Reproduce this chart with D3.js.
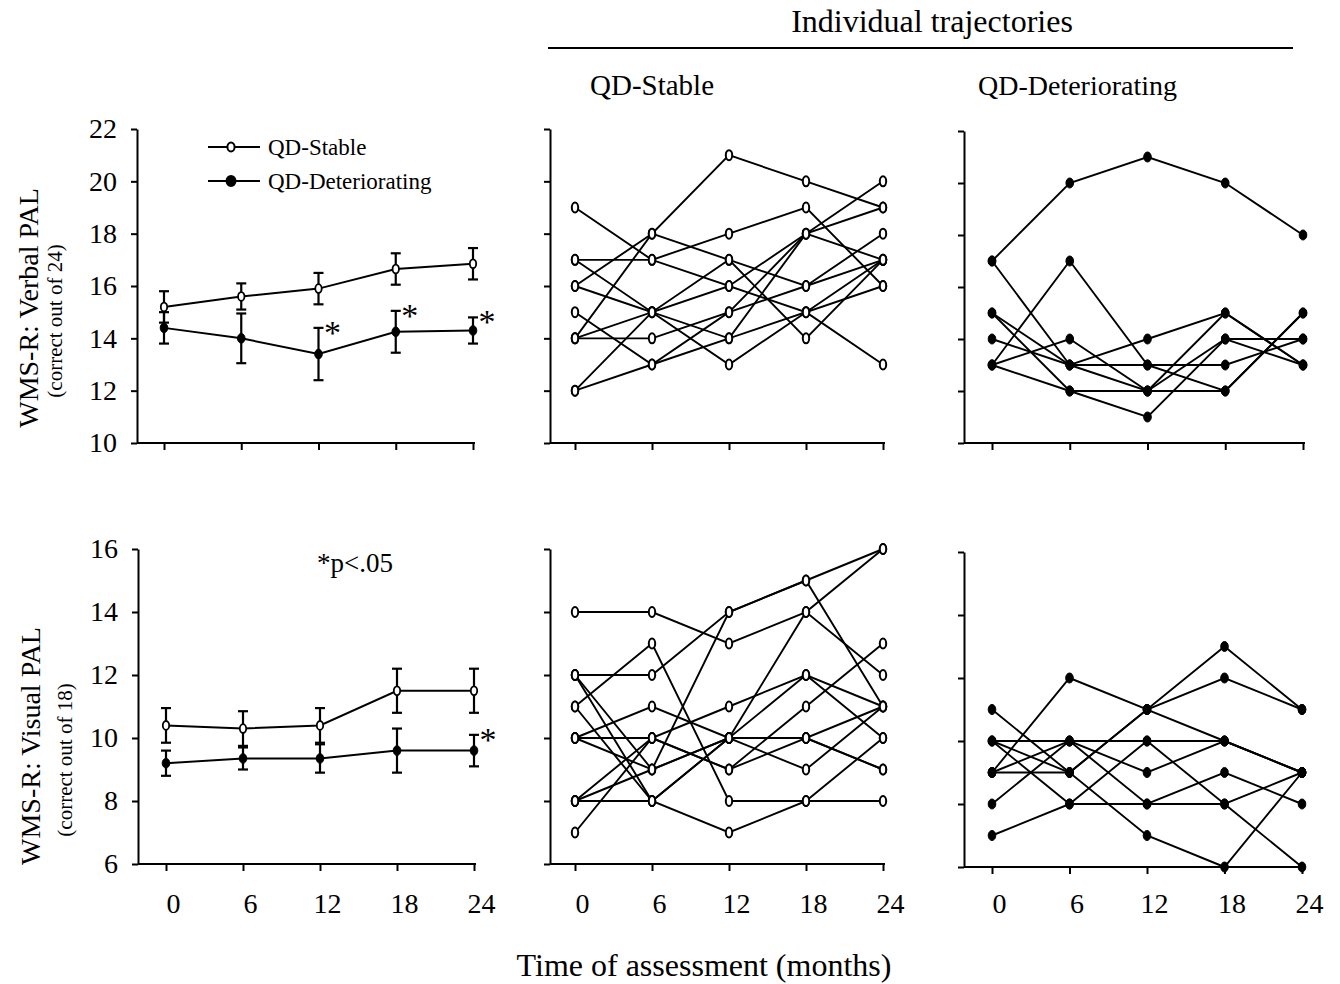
<!DOCTYPE html>
<html>
<head>
<meta charset="utf-8">
<script src="https://cdn.jsdelivr.net/npm/d3@7"></script>
<style>
  body { margin: 0; background: #fff; }
  svg { font-family: "Liberation Serif", "Times New Roman", serif; }
</style>
</head>
<body>
<div id="chart"></div>
<script>
// time points (months)
var months = [0, 6, 12, 18, 24];

// group means and error bars
var verbalStableMean = [15.2, 15.6, 15.9, 16.65, 16.85];
var verbalStableErr  = [0.6, 0.5, 0.6, 0.6, 0.6];
var verbalDetMean    = [14.4, 14.0, 13.4, 14.25, 14.3];
var verbalDetErr     = [0.6, 0.95, 1.0, 0.8, 0.5];
var visualStableMean = [10.4, 10.3, 10.4, 11.5, 11.5];
var visualStableErr  = [0.55, 0.55, 0.55, 0.7, 0.7];
var visualDetMean    = [9.2, 9.35, 9.35, 9.6, 9.6];
var visualDetErr     = [0.4, 0.35, 0.45, 0.7, 0.5];
var verbalSig = [12, 18, 24];
var visualSig = [24];

// individual trajectories
var verbalStableSubjects = [
  [19, 17, 18, 19, 16],
  [17, 17, 16, 18, 20],
  [16, 18, 21, 20, 19],
  [14, 18, 17, 16, 18],
  [17, 15, 17, 14, 17],
  [16, 15, 16, 15, 16],
  [14, 15, 14, 15, 13],
  [12, 15, 13, 15, 17],
  [14, 14, 15, 18, 19],
  [15, 13, 15, 16, 17],
  [12, 13, 14, 18, 17]
];
var verbalDetSubjects = [
  [17, 20, 21, 20, 18],
  [17, 13, 14, 15, 13],
  [15, 13, 13, 12, 15],
  [15, 12, 12, 12, 15],
  [14, 13, 12, 14, 14],
  [13, 17, 13, 13, 14],
  [13, 14, 12, 15, 13],
  [13, 12, 11, 14, 13]
];
var visualStableSubjects = [
  [14, 14, 13, 14, 12],
  [12, 12, 14, 15, 16],
  [12, 9, 14, 15, 11],
  [12, 8, 10, 10, 9],
  [11, 13, 8, 8, 10],
  [11, 8, 7, 8, 8],
  [10, 11, 10, 14, 16],
  [10, 10, 11, 12, 11],
  [10, 9, 10, 12, 10],
  [8, 10, 9, 11, 13],
  [8, 9, 10, 10, 11],
  [8, 8, 10, 9, 11],
  [7, 10, 9, 10, 9]
];
var visualDetSubjects = [
  [11, 9, 11, 12, 11],
  [10, 10, 10, 10, 9],
  [10, 9, 7, 6, 9],
  [10, 8, 10, 8, 9],
  [9, 12, 11, 13, 11],
  [9, 10, 9, 10, 9],
  [9, 9, 11, 10, 9],
  [8, 10, 8, 9, 8],
  [7, 8, 8, 8, 6]
];

var verbalTicks = [10, 12, 14, 16, 18, 20, 22];
var visualTicks = [6, 8, 10, 12, 14, 16];

var svg = d3.select("#chart")
  .append("svg")
    .attr("width", 1340)
    .attr("height", 984);

// build one panel: scales + axes
function makePanel(p) {
  var x = d3.scaleLinear().domain([0, 24]).range([p.x0, p.x1]);
  var y = d3.scaleLinear().domain(p.yDomain).range(p.yRange);
  var g = svg.append("g");

  var yAx = d3.axisLeft(y).tickValues(p.yTicks).tickSize(6).tickSizeOuter(0).tickPadding(14)
    .tickFormat(p.yLabels ? d3.format("d") : "");
  var ya = g.append("g")
    .attr("transform", "translate(" + p.axisX + ",0)")
    .call(yAx);

  var xAx = d3.axisBottom(x).tickValues(months).tickSize(7).tickPadding(p.labelPad || 22)
    .tickFormat(p.xLabels ? d3.format("d") : "");
  var xa = g.append("g")
    .attr("transform", "translate(0," + p.yRange[0] + ")")
    .call(xAx);
  xa.select(".domain").remove();
  xa.append("line")
    .attr("x1", p.axisX).attr("x2", p.x1 + 2)
    .attr("y1", 0).attr("y2", 0)
    .attr("stroke", "#000").attr("stroke-width", 2.2);

  [ya, xa].forEach(function(a) {
    a.selectAll("path,line").attr("stroke", "#000").attr("stroke-width", 2);
    a.selectAll("text")
      .attr("fill", "#000")
      .style("font-size", "28px")
      .style("font-family", "Liberation Serif, Times New Roman, serif");
  });
  xa.selectAll("text").attr("dx", 7);
  return {g: g, x: x, y: y};
}

var line = function(P) {
  return d3.line().x(function(d, i) { return P.x(months[i]); }).y(function(d) { return P.y(d); });
};

function meanSeries(P, mean, err, filled) {
  var eb = P.g.append("g");
  mean.forEach(function(m, i) {
    var cx = P.x(months[i]);
    eb.append("line").attr("x1", cx).attr("x2", cx)
      .attr("y1", P.y(m - err[i])).attr("y2", P.y(m + err[i]))
      .attr("stroke", "#000").attr("stroke-width", 2.2);
    [m - err[i], m + err[i]].forEach(function(v) {
      eb.append("line").attr("x1", cx - 5).attr("x2", cx + 5)
        .attr("y1", P.y(v)).attr("y2", P.y(v))
        .attr("stroke", "#000").attr("stroke-width", 2.2);
    });
  });
  P.g.append("path").datum(mean)
    .attr("d", line(P))
    .attr("fill", "none").attr("stroke", "#000").attr("stroke-width", 2);
  P.g.selectAll(null).data(mean).enter().append("ellipse")
    .attr("cx", function(d, i) { return P.x(months[i]); })
    .attr("cy", function(d) { return P.y(d); })
    .attr("rx", filled ? 3.8 : 3.2).attr("ry", filled ? 4.8 : 4.4)
    .attr("fill", filled ? "#000" : "#fff")
    .attr("stroke", "#000").attr("stroke-width", filled ? 1 : 1.8);
}

function stars(P, sig, mean, err) {
  P.g.selectAll(null).data(sig).enter().append("text")
    .attr("x", function(d) { return P.x(d) + 14; })
    .attr("y", function(d) { var i = months.indexOf(d); return P.y(mean[i] + err[i]) + 16; })
    .attr("text-anchor", "middle")
    .style("font-size", "34px")
    .text("*");
}

function trajectories(P, subjects, filled) {
  P.g.selectAll(null).data(subjects).enter().append("path")
    .attr("d", line(P))
    .attr("fill", "none").attr("stroke", "#000").attr("stroke-width", 1.9);
  var pts = [];
  subjects.forEach(function(s) { s.forEach(function(v, i) { pts.push([i, v]); }); });
  P.g.selectAll(null).data(pts).enter().append("ellipse")
    .attr("cx", function(d) { return P.x(months[d[0]]); })
    .attr("cy", function(d) { return P.y(d[1]); })
    .attr("rx", filled ? 3.8 : 3.2).attr("ry", 5)
    .attr("fill", filled ? "#000" : "#fff")
    .attr("stroke", "#000").attr("stroke-width", filled ? 1 : 2);
}

// top row: verbal PAL
var pTL = makePanel({axisX: 137, x0: 164, x1: 473, yDomain: [10, 22], yRange: [443, 129], yTicks: verbalTicks, yLabels: true, xLabels: false});
var pTM = makePanel({axisX: 550, x0: 575, x1: 883, yDomain: [10, 22], yRange: [443, 129], yTicks: verbalTicks, yLabels: false, xLabels: false});
var pTR = makePanel({axisX: 964, x0: 992, x1: 1303, yDomain: [10, 22], yRange: [443, 131], yTicks: verbalTicks, yLabels: false, xLabels: false});
// bottom row: visual PAL
var pBL = makePanel({axisX: 138, x0: 166, x1: 474, yDomain: [6, 16], yRange: [864, 549], yTicks: visualTicks, yLabels: true, xLabels: true});
var pBM = makePanel({axisX: 550, x0: 575, x1: 883, yDomain: [6, 16], yRange: [864, 549], yTicks: visualTicks, yLabels: false, xLabels: true});
var pBR = makePanel({axisX: 964, x0: 992, x1: 1302, yDomain: [6, 16], yRange: [867, 552], yTicks: visualTicks, yLabels: false, xLabels: true, labelPad: 19});

meanSeries(pTL, verbalStableMean, verbalStableErr, false);
meanSeries(pTL, verbalDetMean, verbalDetErr, true);
stars(pTL, verbalSig, verbalDetMean, verbalDetErr);
meanSeries(pBL, visualStableMean, visualStableErr, false);
meanSeries(pBL, visualDetMean, visualDetErr, true);
stars(pBL, visualSig, visualDetMean, visualDetErr);

trajectories(pTM, verbalStableSubjects, false);
trajectories(pTR, verbalDetSubjects, true);
trajectories(pBM, visualStableSubjects, false);
trajectories(pBR, visualDetSubjects, true);

// legend
var legend = [{name: "QD-Stable", filled: false, y: 147}, {name: "QD-Deteriorating", filled: true, y: 181}];
legend.forEach(function(l) {
  svg.append("line").attr("x1", 208).attr("x2", 260).attr("y1", l.y).attr("y2", l.y)
    .attr("stroke", "#000").attr("stroke-width", 2);
  svg.append("ellipse").attr("cx", 231).attr("cy", l.y)
    .attr("rx", l.filled ? 4.5 : 3.6).attr("ry", l.filled ? 5 : 4.6)
    .attr("fill", l.filled ? "#000" : "#fff").attr("stroke", "#000").attr("stroke-width", 2);
  svg.append("text").attr("x", 268).attr("y", l.y + 8)
    .style("font-size", "23px").text(l.name);
});

svg.append("text").attr("x", 317).attr("y", 572).style("font-size", "27px").text("*p<.05");

// y axis titles
function vtitle(txt, x, y, size) {
  svg.append("text")
    .attr("transform", "translate(" + x + "," + y + ") rotate(-90)")
    .attr("text-anchor", "middle")
    .style("font-size", size + "px")
    .text(txt);
}
vtitle("WMS-R: Verbal PAL", 38, 308, 28);
vtitle("(correct out of 24)", 62, 321, 21);
vtitle("WMS-R: Visual PAL", 40, 746, 28);
vtitle("(correct out of 18)", 72, 760, 21);

// headers
svg.append("text").attr("x", 932).attr("y", 32).attr("text-anchor", "middle")
  .style("font-size", "32px").text("Individual trajectories");
svg.append("line").attr("x1", 548).attr("x2", 1293).attr("y1", 48).attr("y2", 48)
  .attr("stroke", "#000").attr("stroke-width", 2);
svg.append("text").attr("x", 590).attr("y", 95).style("font-size", "29px").text("QD-Stable");
svg.append("text").attr("x", 978).attr("y", 95).style("font-size", "28px").text("QD-Deteriorating");

svg.append("text").attr("x", 704).attr("y", 976).attr("text-anchor", "middle")
  .style("font-size", "32px").text("Time of assessment (months)");
</script>
</body>
</html>
